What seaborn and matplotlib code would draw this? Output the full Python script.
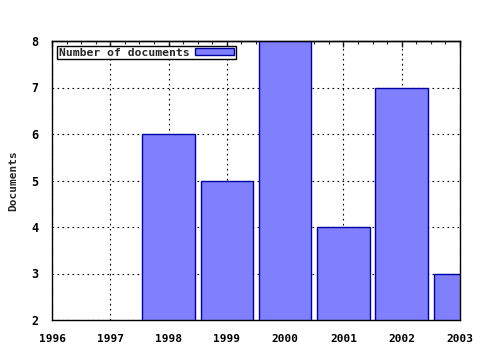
import matplotlib
matplotlib.use("Agg")
import matplotlib.pyplot as plt
import seaborn as sns
import pandas as pd
from matplotlib.ticker import MultipleLocator

years = [1998, 1999, 2000, 2001, 2002, 2003]
documents = [6, 5, 8, 4, 7, 3]
x_ticks = [1996, 1997, 1998, 1999, 2000, 2001, 2002, 2003]
y_ticks = [2, 3, 4, 5, 6, 7, 8]

sns.set_style("white")
plt.rcParams['font.family'] = ['DejaVu Sans Mono']
plt.rcParams['font.weight'] = 'bold'

df = pd.DataFrame({"year": years, "docs": documents})

fig = plt.figure(figsize=(4.8, 3.5), dpi=100)
ax = fig.add_axes([52/480, 30/350, 408/480, 279/350])

sns.barplot(data=df, x="year", y="docs", native_scale=True, width=0.9,
            color="#8080ff", saturation=1, edgecolor="#0000a0", linewidth=1,
            label="Number of documents", ax=ax)

ax.set_xlim(1996, 2003)
ax.set_ylim(2, 8)
ax.set_xticks(x_ticks)
ax.set_xticklabels([str(t) for t in x_ticks])
ax.set_yticks(y_ticks)
ax.set_yticklabels([str(t) for t in y_ticks])
ax.xaxis.set_minor_locator(MultipleLocator(0.25))
ax.tick_params(axis="x", which="major", direction="out", length=4, width=1,
               labelsize=8, pad=6, colors="black")
ax.tick_params(axis="x", which="minor", direction="out", length=2, width=0.8)
ax.tick_params(axis="y", which="major", direction="out", length=4, width=1,
               labelsize=8.5, pad=6, colors="black")
for lbl in ax.get_xticklabels() + ax.get_yticklabels():
    lbl.set_fontweight("bold")

top = ax.secondary_xaxis("top")
top.set_xticks(x_ticks)
top.set_xticklabels([])
top.xaxis.set_minor_locator(MultipleLocator(0.25))
top.tick_params(axis="x", which="major", direction="in", length=4, width=1)
top.tick_params(axis="x", which="minor", direction="in", length=2, width=0.8)
top.spines["top"].set_linewidth(1)

ax.set_axisbelow(True)
ax.grid(True, which="major", linestyle=(0, (1.5, 3)), color="black", linewidth=0.8)
for s in ax.spines.values():
    s.set_color("black")
    s.set_linewidth(1)

ax.set_xlabel("")
ax.set_ylabel("Documents", fontsize=8, fontweight="bold", labelpad=9)

leg = ax.legend(loc="upper left", markerfirst=False, fancybox=False, frameon=True,
                edgecolor="black", framealpha=1, borderaxespad=0.3, borderpad=0.15,
                handlelength=3.4, handleheight=0.55, handletextpad=0.5,
                bbox_to_anchor=(0.005, 0.995),
                prop={"size": 8.2, "weight": "bold"})
leg.get_frame().set_linewidth(1)

fig.savefig("out.png", dpi=100)
